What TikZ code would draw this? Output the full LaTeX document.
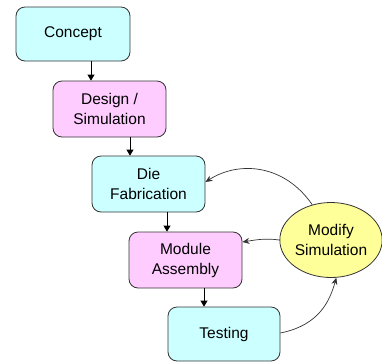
\documentclass[tikz,border=0pt]{standalone}
\usepackage{fontspec}
\setmainfont{Liberation Sans}
\usetikzlibrary{arrows.meta,shapes.geometric}
\definecolor{boxcyan}{HTML}{CCFFFF}
\definecolor{boxpink}{HTML}{FFCCFF}
\definecolor{boxyellow}{HTML}{FFFF99}
\definecolor{edge}{HTML}{333333}
\tikzset{
  stepbox/.style={draw=edge, line width=0.8pt, rounded corners=9pt, inner sep=0pt, align=center, font=\fontsize{15.5}{20}\selectfont},
  flow/.style={-{Triangle[length=6pt,width=7pt]}, line width=0.8pt, black},
  loop/.style={-{Stealth[length=7pt,width=6pt]}, line width=0.7pt, edge},
}
\begin{document}
\begin{tikzpicture}[x=1pt,y=-1pt]
\useasboundingbox (0,0) rectangle (382,362);
\node[stepbox, fill=boxcyan, minimum width=114pt, minimum height=54pt] (concept) at (73,34) {Concept};
\node[stepbox, fill=boxpink, minimum width=113pt, minimum height=56pt] (design) at (109.5,109) {Design /\\Simulation};
\node[stepbox, fill=boxcyan, minimum width=113pt, minimum height=56pt] (die) at (148.5,184) {Die\\Fabrication};
\node[stepbox, fill=boxpink, minimum width=113pt, minimum height=56pt] (module) at (185.5,260) {Module\\Assembly};
\node[stepbox, fill=boxcyan, minimum width=112pt, minimum height=54pt] (testing) at (224,334) {Testing};
\node[ellipse, draw=edge, line width=0.8pt, fill=boxyellow, minimum width=102pt, minimum height=75pt, inner sep=0pt, align=center, font=\fontsize{15.5}{20}\selectfont] (modify) at (331,240) {Modify\\Simulation};
\draw[flow] (concept.south -| 91,0) -- (design.north -| 91,0);
\draw[flow] (design.south -| 130,0) -- (die.north -| 130,0);
\draw[flow] (die.south -| 167,0) -- (module.north -| 167,0);
\draw[flow] (module.south -| 204,0) -- (testing.north -| 204,0);
\draw[loop] (modify.118) .. controls (285,165) and (240,160) .. (die.east |- 0,182);
\draw[loop] (modify.west) .. controls (265,238) and (255,240) .. (module.east |- 0,242);
\draw[loop] (testing.east |- 0,333) .. controls (320,325) and (330,300) .. (modify.-82);
\end{tikzpicture}
\end{document}
